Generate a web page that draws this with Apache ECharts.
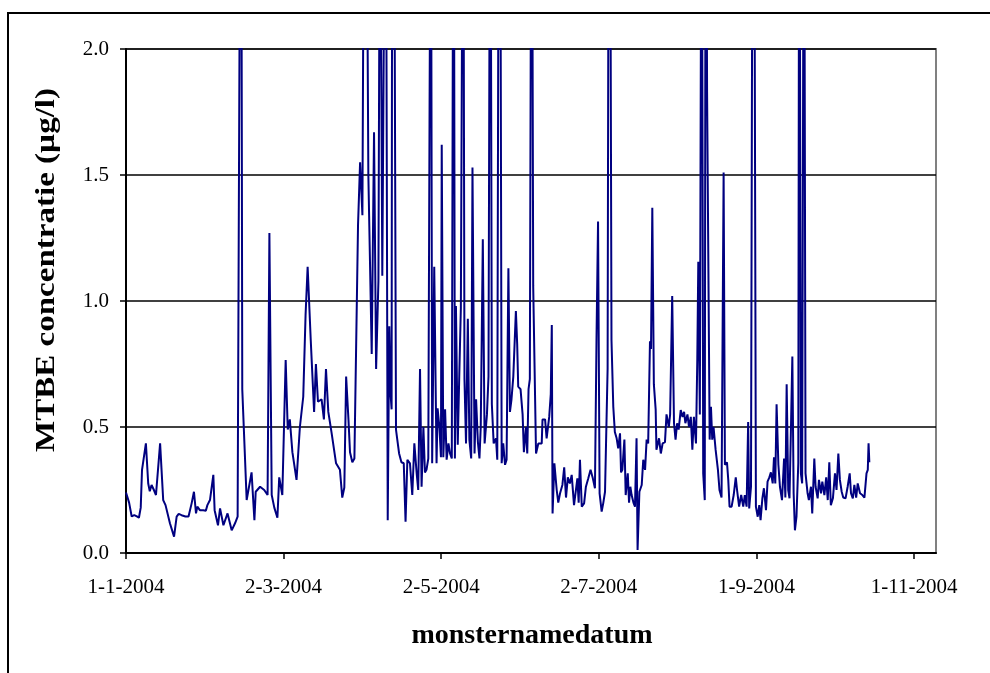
<!DOCTYPE html>
<html>
<head>
<meta charset="utf-8">
<title>MTBE concentratie</title>
<script src="https://cdn.jsdelivr.net/npm/echarts@6/dist/echarts.min.js"></script>
<style>
  html, body { margin: 0; padding: 0; background: #ffffff; }
  #chart { width: 990px; height: 673px; }
</style>
</head>
<body>
<div id="chart"></div>
<script>
// Sampling moment, in days after 1-1-2004
const sampleDay = [
  0, 1.2, 2.2, 3.2, 4.2, 5, 5.7, 6.2, 7.7, 8.6, 9.2, 9.9, 10.8, 11.6, 13.2, 14.4, 15.3, 17, 18.6, 19.6,
  20.4, 21.5, 22.2, 23, 24.2, 25.4, 26.3, 27.1, 27.6, 28.6, 29.9, 30.9, 31.5, 32.5, 33.8, 34.3, 35.6, 36.4, 37.7, 39.3,
  40.9, 42.2, 43.2, 44.5, 45, 46.7, 48.6, 49.7, 50.2, 51.9, 53.5, 54.8, 55.5, 56.4, 57.4, 58.6, 59.3, 60.5, 61.8, 62.6,
  63.4, 64.4, 66, 67.3, 68.6, 69.5, 70.3, 71.5, 72.8, 73.5, 74.3, 75.7, 76.6, 77.4, 78.3, 79.6, 81.3, 82.8, 83.7, 84.5,
  85.2, 86.1, 86.7, 87.6, 88.4, 89.8, 90.6, 91.5, 92.2, 93.1, 93.8, 95.1, 96, 96.8, 97.7, 98.3, 99.2, 100.5, 101.3, 101.9,
  102.4, 102.8, 103.1, 103.7, 104.5, 105, 105.7, 106.6, 107.5, 108.2, 108.9, 109.9, 110.8, 111.6, 112.5, 113.1, 113.8, 114.4, 115.1, 115.7,
  116.3, 117, 117.5, 118, 118.5, 119.3, 120.2, 120.6, 121.3, 121.9, 122.2, 122.8, 123.5, 124.1, 124.8, 125.4, 126.1, 126.8, 127.3, 127.7,
  128.4, 129, 129.6, 130.5, 131, 131.6, 132.3, 132.9, 133.6, 134.1, 134.9, 135.5, 136.2, 136.8, 137.3, 138.1, 138.8, 139.7, 140.3, 141,
  141.6, 142.3, 143.2, 143.7, 144.3, 144.8, 145.4, 146, 146.7, 147.3, 148, 148.6, 149.2, 149.9, 150.9, 151.4, 151.8, 152.7, 153.5, 154,
  154.8, 155.3, 155.8, 156.3, 157, 157.6, 158.7, 159.6, 160.9, 161.2, 162.2, 162.8, 163.8, 164.4, 164.8, 165.1, 165.8, 166.7, 167.3, 168,
  168.9, 169.6, 170.3, 171, 171.8, 172.5, 173.4, 174.7, 175.2, 175.7, 176.4, 177.3, 178, 178.9, 179.8, 180.6, 181.5, 182.1, 182.7, 183.3,
  184.1, 184.7, 185.4, 186, 186.4, 186.9, 187.3, 187.9, 188.6, 189.2, 189.9, 190.5, 191.2, 191.6, 192.1, 192.9, 193.4, 194.2, 194.7, 195.2,
  195.7, 196.4, 197, 197.6, 198, 198.7, 199.6, 200.2, 200.9, 201.5, 202.1, 202.8, 203.2, 203.7, 204.3, 205, 205.3, 206.3, 207, 207.7,
  208.6, 209.2, 210.1, 210.6, 211.4, 212.1, 212.7, 213.3, 213.9, 214.7, 215.4, 216, 216.5, 217.3, 217.9, 218.6, 219.2, 219.8, 220.6, 221.1,
  221.5, 222.1, 222.8, 223.4, 224, 224.4, 224.9, 225.9, 226.4, 226.9, 227.4, 228.2, 229.1, 229.7, 230.5, 231.3, 231.8, 232.6, 233.1, 233.6,
  234.4, 235.2, 236, 236.5, 237.3, 238.1, 238.9, 239.5, 240.2, 240.8, 241.2, 241.9, 242.6, 243.1, 243.8, 244.5, 245.1, 245.6, 246.3, 246.9,
  247.7, 248.3, 249, 249.6, 250.3, 250.8, 251.3, 251.8, 252.5, 253.1, 253.9, 254.7, 255.2, 255.7, 256.3, 256.8, 257.4, 257.9, 258.4, 258.9,
  259.5, 260.2, 260.6, 261.2, 261.7, 262.4, 263, 263.8, 264.3, 265.1, 265.6, 266.4, 266.9, 267.7, 268.2, 269, 269.5, 270.3, 271, 271.6,
  272.2, 272.8, 273.6, 274.4, 275, 275.7, 276.3, 277, 277.6, 278.5, 279.3, 280.1, 280.6, 281.3, 281.9, 282.6, 283.2, 284.1, 285, 285.8,
  286.6, 287.1, 287.4, 287.7
];

// MTBE concentration per sample (µg/l)
const mtbe = [
  0.24, 0.20, 0.145, 0.15, 0.145, 0.14, 0.18, 0.33, 0.435, 0.276, 0.245, 0.27, 0.25, 0.23, 0.435, 0.21, 0.19, 0.118, 0.065, 0.144,
  0.155, 0.15, 0.155, 0.145, 0.145, 0.197, 0.243, 0.157, 0.184, 0.17, 0.17, 0.168, 0.19, 0.21, 0.31, 0.17, 0.11, 0.177, 0.11, 0.157,
  0.09, 0.118, 0.144, 3.5, 0.65, 0.21, 0.32, 0.13, 0.243, 0.263, 0.25, 0.23, 1.27, 0.23, 0.18, 0.14, 0.30, 0.23, 0.766, 0.49,
  0.53, 0.40, 0.29, 0.50, 0.62, 0.944, 1.136, 0.845, 0.56, 0.75, 0.60, 0.61, 0.53, 0.73, 0.56, 0.475, 0.356, 0.33, 0.22, 0.26,
  0.70, 0.53, 0.40, 0.36, 0.375, 1.30, 1.55, 1.34, 3.0, 2.8, 1.5, 0.79, 1.67, 0.73, 1.08, 2.9, 1.1, 3.2, 0.13, 0.9,
  0.63, 0.57, 3.5, 3.0, 0.49, 0.45, 0.395, 0.36, 0.356, 0.124, 0.37, 0.356, 0.23, 0.435, 0.316, 0.25, 0.73, 0.263, 0.50, 0.32,
  0.33, 0.375, 1.79, 3.0, 0.356, 1.136, 0.356, 0.574, 0.50, 0.38, 1.62, 0.38, 0.57, 0.37, 0.435, 0.395, 0.375, 3.4, 0.375, 0.98,
  0.43, 0.71, 0.97, 3.2, 0.69, 0.435, 0.93, 0.45, 0.375, 1.53, 0.395, 0.61, 0.44, 0.375, 0.50, 1.245, 0.435, 0.55, 0.70, 3.3,
  0.59, 0.435, 0.455, 0.37, 3.1, 3.0, 0.356, 0.435, 0.35, 0.37, 1.13, 0.56, 0.61, 0.70, 0.96, 0.83, 0.66, 0.65, 0.55, 0.40,
  0.50, 0.395, 0.65, 0.69, 3.4, 1.06, 0.395, 0.435, 0.435, 0.53, 0.53, 0.455, 0.54, 0.63, 0.905, 0.157, 0.356, 0.25, 0.20, 0.237,
  0.27, 0.34, 0.22, 0.30, 0.276, 0.31, 0.19, 0.296, 0.20, 0.37, 0.184, 0.197, 0.263, 0.296, 0.33, 0.30, 0.257, 0.845, 1.315, 0.237,
  0.164, 0.197, 0.243, 0.25, 0.73, 3.3, 3.1, 0.845, 0.58, 0.48, 0.455, 0.415, 0.475, 0.32, 0.33, 0.45, 0.23, 0.316, 0.20, 0.263,
  0.23, 0.20, 0.184, 0.455, 0.012, 0.243, 0.27, 0.37, 0.33, 0.45, 0.435, 0.84, 0.81, 1.37, 0.67, 0.57, 0.41, 0.455, 0.395, 0.435,
  0.44, 0.55, 0.50, 0.55, 1.02, 0.515, 0.45, 0.515, 0.49, 0.567, 0.54, 0.56, 0.515, 0.55, 0.50, 0.54, 0.41, 0.54, 0.435, 0.76,
  1.156, 0.55, 3.2, 0.316, 0.21, 3.5, 1.83, 0.45, 0.58, 0.45, 0.50, 0.41, 0.33, 0.25, 0.22, 1.51, 0.35, 0.36, 0.29, 0.184,
  0.184, 0.23, 0.30, 0.25, 0.184, 0.23, 0.184, 0.23, 0.184, 0.52, 0.177, 0.263, 3.3, 3.0, 0.184, 0.144, 0.19, 0.13, 0.217, 0.257,
  0.17, 0.283, 0.30, 0.32, 0.276, 0.38, 0.276, 0.59, 0.35, 0.263, 0.21, 0.375, 0.22, 0.67, 0.25, 0.217, 0.515, 0.78, 0.237, 0.09,
  0.144, 0.356, 3.4, 0.316, 0.276, 3.3, 0.316, 0.237, 0.21, 0.263, 0.157, 0.375, 0.263, 0.217, 0.29, 0.237, 0.283, 0.23, 0.30, 0.21,
  0.36, 0.19, 0.217, 0.316, 0.25, 0.395, 0.29, 0.243, 0.22, 0.217, 0.263, 0.316, 0.237, 0.217, 0.27, 0.22, 0.276, 0.237, 0.23, 0.22,
  0.316, 0.33, 0.435, 0.36
];

// Date axis: ticks every 61 days from 1-1-2004
const tickDays = [0, 61, 122, 183, 244, 305];
const tickLabels = ['1-1-2004', '2-3-2004', '2-5-2004', '2-7-2004', '1-9-2004', '1-11-2004'];
const yTicks = [0, 0.5, 1.0, 1.5, 2.0];

const xTitle = 'monsternamedatum';
const yTitle = 'MTBE concentratie (µg/l)';

const serif = '"Liberation Serif", "DejaVu Serif", serif';

const points = sampleDay.map((d, i) => [d, mtbe[i]]);

const chart = echarts.init(document.getElementById('chart'), null, { renderer: 'canvas' });

chart.setOption({
  animation: false,
  backgroundColor: '#ffffff',
  grid: {
    left: 126, top: 49, width: 810, height: 504,
    show: true,
    backgroundColor: '#ffffff',
    borderColor: '#808080',
    borderWidth: 2
  },
  graphic: [
    {
      type: 'rect',
      z: 100,
      shape: { x: 8, y: 13, width: 1000, height: 700 },
      style: { fill: 'none', stroke: '#000000', lineWidth: 2 },
      silent: true
    },
    {
      type: 'text',
      x: 532, y: 636,
      style: {
        text: xTitle, font: 'bold 28px ' + serif, fill: '#000000',
        align: 'center', verticalAlign: 'middle'
      }
    },
    {
      type: 'text',
      x: 47, y: 270,
      rotation: Math.PI / 2,
      scaleX: 1.18,
      style: {
        text: yTitle, font: 'bold 28px ' + serif, fill: '#000000',
        align: 'center', verticalAlign: 'middle'
      }
    }
  ],
  xAxis: {
    type: 'value',
    min: 0,
    max: 313.5,
    interval: 61,
    axisLine: { show: true, onZero: false, lineStyle: { color: '#000000', width: 2 } },
    axisTick: {
      show: true, inside: false, length: 6,
      customValues: tickDays,
      lineStyle: { color: '#000000', width: 1.5 }
    },
    axisLabel: {
      customValues: tickDays,
      showMinLabel: true,
      showMaxLabel: true,
      margin: 24,
      color: '#000000',
      fontFamily: serif,
      fontSize: 21,
      formatter: (v) => {
        const i = tickDays.indexOf(Math.round(v));
        return i >= 0 ? tickLabels[i] : '';
      }
    },
    splitLine: { show: false }
  },
  yAxis: {
    type: 'value',
    min: yTicks[0],
    max: yTicks[yTicks.length - 1],
    interval: 0.5,
    axisLine: { show: true, lineStyle: { color: '#000000', width: 2 } },
    axisTick: { show: true, inside: false, length: 6, lineStyle: { color: '#000000', width: 1.5 } },
    axisLabel: {
      margin: 17,
      color: '#000000',
      fontFamily: serif,
      fontSize: 21,
      padding: [6, 0, 0, 0],
      formatter: (v) => v.toFixed(1)
    },
    splitLine: { show: true, lineStyle: { color: '#000000', width: 1.5 } }
  },
  series: [
    {
      type: 'line',
      data: points,
      showSymbol: false,
      symbol: 'none',
      clip: true,
      lineStyle: { color: '#000080', width: 2 },
      z: 3
    }
  ]
});
</script>
</body>
</html>
